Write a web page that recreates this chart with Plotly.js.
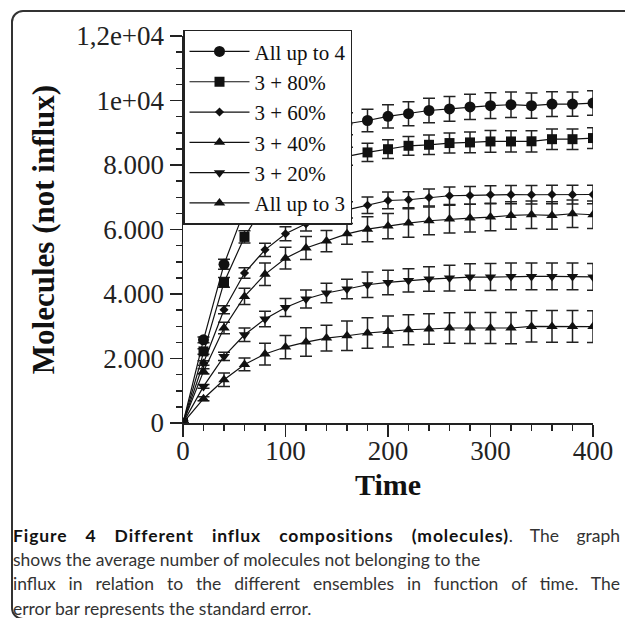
<!DOCTYPE html>
<html>
<head>
<meta charset="utf-8">
<script src="https://cdn.plot.ly/plotly-3.0.1.min.js"></script>
<style>
  html, body { margin:0; padding:0; background:#fff; width:625px; height:618px; overflow:hidden; }
  #frame { position:absolute; left:11px; top:10px; width:700px; height:606px; border:2px solid #333; border-radius:12px; }
  #plot { position:absolute; left:0; top:0; width:625px; height:618px; }
  #caption { position:absolute; left:13px; top:524px; width:607px; font-family:"Lato", sans-serif; font-size:17.5px; line-height:24.2px; color:#333; }
  #caption div { white-space:nowrap; }
  #caption .just { text-align:justify; text-align-last:justify; white-space:normal; }
  #caption b { color:#111; letter-spacing:0.9px; }
</style>
</head>
<body>
<div id="frame"></div>
<div id="plot"></div>
<div id="caption">
  <div class="just"><b>Figure 4 Different influx compositions (molecules)</b>. The graph</div>
  <div>shows the average number of molecules not belonging to the</div>
  <div class="just">influx in relation to the different ensembles in function of time. The</div>
  <div>error bar represents the standard error.</div>
</div>
<script>
// ---- data ----
const time = [0,20,40,60,80,100,120,140,160,180,200,220,240,260,280,300,320,340,360,380,400];

const seriesNames = ["All up to 4","3 + 80%","3 + 60%","3 + 40%","3 + 20%","All up to 3"];

const allUpTo4 = [0,2580,4920,6600,7700,8400,8850,9100,9280,9380,9510,9590,9690,9740,9800,9840,9870,9840,9890,9890,9920];
const errAllUpTo4 = [0,90,155,200,250,290,310,330,340,350,360,375,380,385,390,397,395,390,385,375,380];

const plus80 = [0,2220,4360,5770,6800,7450,7850,8100,8270,8390,8490,8596,8627,8680,8700,8730,8730,8735,8800,8800,8835];
const errPlus80 = [0,85,150,190,230,250,265,275,280,285,290,290,300,310,320,336,330,330,320,320,320];

const plus60 = [0,1860,3510,4650,5370,5870,6180,6420,6610,6750,6900,6922,6994,7046,7056,7077,7080,7077,7085,7080,7085];
const errPlus60 = [0,70,124,165,207,217,230,240,250,255,260,250,265,270,275,280,285,285,290,290,290];

const plus40 = [0,1600,2945,3925,4610,5110,5425,5640,5865,6010,6105,6200,6271,6324,6355,6386,6436,6457,6436,6488,6457];
const errPlus40 = [0,80,180,250,350,336,356,330,320,388,388,440,430,430,430,425,425,425,425,425,425];

const plus20 = [0,1135,2065,2737,3224,3584,3844,4030,4154,4287,4359,4421,4464,4495,4526,4526,4545,4545,4545,4545,4530];
const errPlus20 = [0,60,130,207,242,279,279,300,300,397,380,362,380,400,410,418,415,415,415,413,415];

const allUpTo3 = [0,753,1342,1817,2138,2355,2510,2634,2706,2790,2840,2892,2914,2945,2945,2945,2945,2995,2995,2995,2990];
const errAllUpTo3 = [0,60,207,196,336,362,440,398,455,475,480,465,470,475,480,480,485,485,490,490,490];

const xTickVals = [0,100,200,300,400];
const yTickVals = [0,2000,4000,6000,8000,10000,12000];
const yTickText = ["0","2.000","4.000","6.000","8.000","1e+04","1,2e+04"];

// ---- styling ----
const ink = "#111";
const serif = "Liberation Serif, serif";
const values = [allUpTo4, plus80, plus60, plus40, plus20, allUpTo3];
const errors = [errAllUpTo4, errPlus80, errPlus60, errPlus40, errPlus20, errAllUpTo3];
const symbols = ["circle","square","diamond","triangle-up","triangle-down","triangle-up"];
const sizes = [11,10,7,10,10,10];

const traces = values.map((v,i) => ({
  x: time, y: v, name: seriesNames[i], type: "scatter", mode: "lines+markers",
  line: {color: ink, width: 1.2},
  marker: {symbol: symbols[i], size: sizes[i], color: ink},
  error_y: {type: "data", array: errors[i], visible: true, color: "#222", thickness: 1.5, width: 6},
  cliponaxis: true
}));

const layout = {
  width: 625, height: 618,
  margin: {l: 183, r: 32, t: 36, b: 195},
  paper_bgcolor: "rgba(0,0,0,0)", plot_bgcolor: "rgba(0,0,0,0)",
  showlegend: true,
  xaxis: {
    range: [0,400], tickvals: xTickVals, ticks: "outside", ticklen: 12, tickwidth: 1.5, tickcolor: "#222",
    showline: true, linecolor: "#222", linewidth: 1.5, showgrid: false, zeroline: false,
    minor: {dtick: 20, tick0: 0, ticks: "outside", ticklen: 6, tickwidth: 1.5, tickcolor: "#222", showgrid: false},
    tickfont: {family: serif, size: 27, color: "#222"}, ticklabelstandoff: -9,
    title: {text: "<b>Time</b>", font: {family: serif, size: 30, color: "#111"}, standoff: 9}
  },
  yaxis: {
    range: [0,12000], tickvals: yTickVals, ticktext: yTickText, ticks: "outside", ticklen: 12, tickwidth: 1.5, tickcolor: "#222",
    showline: true, linecolor: "#222", linewidth: 1.5, showgrid: false, zeroline: false,
    minor: {dtick: 500, tick0: 0, ticks: "outside", ticklen: 6, tickwidth: 1.5, tickcolor: "#222", showgrid: false},
    tickfont: {family: serif, size: 27, color: "#222"},
    title: {text: "<b>Molecules (not influx)</b>", font: {family: serif, size: 31, color: "#111"}, standoff: 12}
  },
  legend: {
    x: 0, y: 1.016, xanchor: "left", yanchor: "top",
    bgcolor: "#fff", bordercolor: "#222", borderwidth: 1.5,
    font: {family: serif, size: 21, color: "#111"},
    itemwidth: 60,
    tracegroupgap: 0
  }
};

Plotly.newPlot("plot", traces, layout, {displayModeBar: false, staticPlot: true});
</script>
</body>
</html>
